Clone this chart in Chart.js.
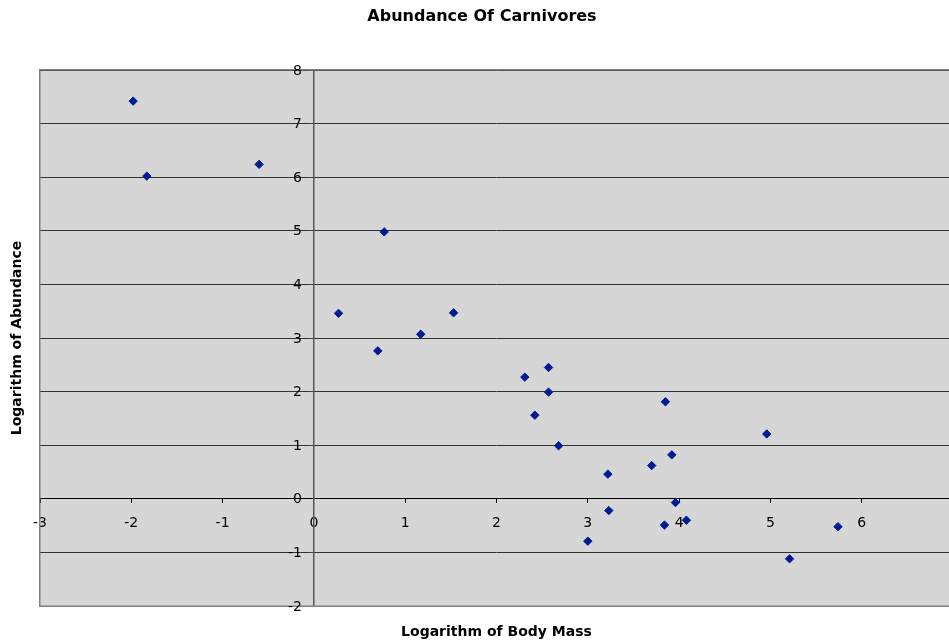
<!DOCTYPE html>
<html>
<head>
<meta charset="utf-8">
<script src="https://cdn.jsdelivr.net/npm/chart.js@4/dist/chart.umd.min.js"></script>
<style>
  html, body { margin: 0; padding: 0; background: #ffffff; overflow: hidden; width: 949px; height: 643px; }
  canvas { display: block; }
</style>
</head>
<body>
<canvas id="chart" width="965" height="643"></canvas>
<script>
// Log body mass (x) and log abundance (y) for each carnivore species
const logBodyMass = [-1.98, -1.83, -0.60, 0.77, 0.27, 0.70, 1.17, 1.53, 2.31, 2.57, 2.57, 2.42, 2.68,
                     3.22, 3.70, 3.92, 3.85, 4.96, 3.23, 3.96, 3.84, 4.08, 5.74, 5.21, 3.00];
const logAbundance = [7.42, 6.02, 6.24, 4.98, 3.46, 2.76, 3.07, 3.47, 2.27, 2.45, 1.99, 1.56, 0.99,
                      0.46, 0.62, 0.82, 1.81, 1.21, -0.22, -0.07, -0.49, -0.40, -0.52, -1.12, -0.79];

const chartTitle = 'Abundance Of Carnivores';
const xTitle = 'Logarithm of Body Mass';
const yTitle = 'Logarithm of Abundance';

const xRange = [-3, 7];
const yRange = [-2, 8];
const xLabelledMax = 6;   // the tick at 7 sits on the cut-off right edge and carries no label

const points = logBodyMass.map((x, i) => ({ x: x, y: logAbundance[i] }));

const FONT = '"DejaVu Sans", Verdana, sans-serif';

// Grey plot background and frame, y tick labels beside the crossing axis, and the titles
const plotDecor = {
  id: 'plotDecor',
  beforeDraw(chart) {
    const { ctx, chartArea: a } = chart;
    ctx.save();
    ctx.fillStyle = '#d6d6d6';
    ctx.fillRect(a.left, a.top, a.right - a.left, a.bottom - a.top);
    ctx.restore();
  },
  afterDraw(chart) {
    const { ctx, chartArea: a, scales } = chart;
    ctx.save();
    ctx.strokeStyle = '#808080';
    ctx.lineWidth = 1.5;
    ctx.strokeRect(a.left - 0.25, a.top - 0.25, a.right - a.left + 0.5, a.bottom - a.top + 0.5);

    // y tick labels, right-aligned a little to the left of the y axis (which crosses at x = 0)
    const axisX = scales.x.getPixelForValue(0);
    ctx.fillStyle = '#000000';
    ctx.font = '14px ' + FONT;
    ctx.textAlign = 'right';
    ctx.textBaseline = 'middle';
    scales.y.ticks.forEach(t => {
      ctx.fillText(String(t.value), axisX - 12, scales.y.getPixelForValue(t.value) + 1);
    });

    ctx.textAlign = 'center';
    ctx.font = 'bold 16px ' + FONT;
    ctx.fillText(chartTitle, 482, 17);

    ctx.font = 'bold 14px ' + FONT;
    ctx.fillText(xTitle, (a.left + a.right) / 2, 632);

    ctx.translate(17, (a.top + a.bottom) / 2);
    ctx.rotate(-Math.PI / 2);
    ctx.fillText(yTitle, 0, 0);
    ctx.restore();
  }
};

new Chart(document.getElementById('chart'), {
  type: 'scatter',
  data: {
    datasets: [{
      label: 'Carnivores',
      data: points,
      pointStyle: 'rectRot',
      pointRadius: 4.2,
      pointHoverRadius: 4.2,
      pointBorderWidth: 1,
      backgroundColor: '#001c94',
      borderColor: '#001c94'
    }]
  },
  options: {
    responsive: false,
    animation: false,
    layout: { padding: { left: 40, top: 70, right: 12, bottom: 37 } },
    plugins: {
      legend: { display: false },
      title: { display: false },
      tooltip: { enabled: false }
    },
    scales: {
      x: {
        type: 'linear',
        position: { y: 0 },
        min: xRange[0],
        max: xRange[1],
        ticks: {
          stepSize: 1,
          color: '#000000',
          font: { family: FONT, size: 14 },
          padding: 12,
          maxRotation: 0,
          autoSkip: false,
          callback: v => (v > xLabelledMax ? '' : String(v))
        },
        grid: {
          drawOnChartArea: false,
          drawTicks: true,
          tickLength: 4,
          tickColor: '#000000'
        },
        border: { display: true, color: '#000000', width: 1 }
      },
      y: {
        type: 'linear',
        position: { x: 0 },
        min: yRange[0],
        max: yRange[1],
        ticks: {
          stepSize: 1,
          display: false
        },
        grid: {
          drawOnChartArea: true,
          color: '#333333',
          lineWidth: 1,
          drawTicks: true,
          tickLength: 4,
          tickColor: '#444444'
        },
        border: { display: true, color: '#555555', width: 1.5 }
      }
    }
  },
  plugins: [plotDecor]
});
</script>
</body>
</html>
